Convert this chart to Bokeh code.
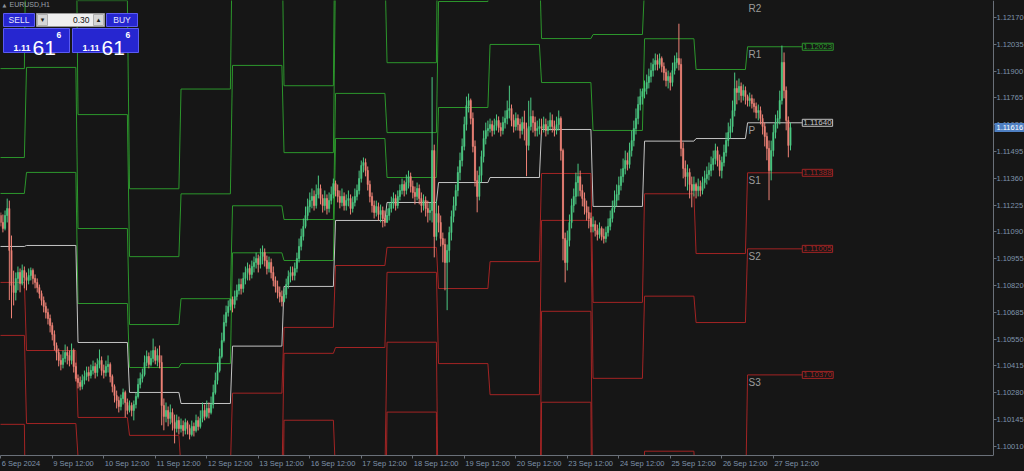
import numpy as np
import pandas as pd
from bokeh.plotting import figure
from bokeh.models import (ColumnDataSource, Range1d, FixedTicker, PrintfTickFormatter, LinearAxis,
                          Label, BoxAnnotation, GlobalInlineStyleSheet)
from bokeh.core.properties import value
from bokeh.embed import file_html
from bokeh.resources import INLINE

# ---------------- data (EURUSD, H1) ----------------
SYMBOL = "EURUSD,H1"
LOT = "0.30"
first_open = 1.11173

close = [
    # 6 Sep (12:00-23:00)
    1.11138, 1.11108, 1.11173, 1.11208, 1.10997, 1.10820, 1.10785, 1.10856, 1.10886, 1.10831, 1.10896, 1.10861,
    # 9 Sep
    1.10846, 1.10871, 1.10896, 1.10856, 1.10836, 1.10810, 1.10780, 1.10745, 1.10715, 1.10684, 1.10654, 1.10619,
    1.10574, 1.10518, 1.10483, 1.10443, 1.10423, 1.10453, 1.10483, 1.10468, 1.10443, 1.10493, 1.10412, 1.10352,
    # 10 Sep
    1.10332, 1.10312, 1.10342, 1.10362, 1.10382, 1.10367, 1.10392, 1.10412, 1.10382, 1.10423, 1.10443, 1.10392,
    1.10382, 1.10412, 1.10423, 1.10362, 1.10312, 1.10266, 1.10241, 1.10211, 1.10251, 1.10281, 1.10231, 1.10191,
    # 11 Sep
    1.10216, 1.10191, 1.10221, 1.10261, 1.10322, 1.10352, 1.10372, 1.10433, 1.10463, 1.10423, 1.10453, 1.10493,
    1.10443, 1.10468, 1.10433, 1.10216, 1.10161, 1.10191, 1.10151, 1.10181, 1.10130, 1.10100, 1.10140, 1.10100,
    # 12 Sep
    1.10115, 1.10090, 1.10130, 1.10100, 1.10070, 1.10110, 1.10090, 1.10140, 1.10110, 1.10151, 1.10191, 1.10161,
    1.10201, 1.10181, 1.10221, 1.10281, 1.10342, 1.10392, 1.10463, 1.10543, 1.10634, 1.10684, 1.10715, 1.10750,
    # 13 Sep
    1.10725, 1.10765, 1.10795, 1.10825, 1.10805, 1.10856, 1.10886, 1.10906, 1.10876, 1.10916, 1.10936, 1.10956,
    1.10926, 1.10967, 1.10987, 1.10946, 1.10906, 1.10936, 1.10886, 1.10846, 1.10815, 1.10785, 1.10765, 1.10740,
    # 16 Sep
    1.10775, 1.10825, 1.10866, 1.10886, 1.10871, 1.10906, 1.10956, 1.11017, 1.11067, 1.11118, 1.11173, 1.11218,
    1.11249, 1.11269, 1.11223, 1.11279, 1.11309, 1.11259, 1.11223, 1.11259, 1.11208, 1.11249, 1.11279, 1.11334,
    # 17 Sep
    1.11299, 1.11269, 1.11239, 1.11269, 1.11223, 1.11249, 1.11259, 1.11208, 1.11239, 1.11269, 1.11299, 1.11359,
    1.11425, 1.11440, 1.11400, 1.11329, 1.11269, 1.11223, 1.11188, 1.11218, 1.11178, 1.11198, 1.11158, 1.11138,
    # 18 Sep
    1.11173, 1.11208, 1.11233, 1.11259, 1.11223, 1.11269, 1.11299, 1.11329, 1.11299, 1.11339, 1.11369, 1.11319,
    1.11289, 1.11269, 1.11309, 1.11259, 1.11223, 1.11249, 1.11208, 1.11188, 1.11198, 1.11500, 1.11067, 1.11183,
    # 19 Sep
    1.11138, 1.11057, 1.11027, 1.10936, 1.10997, 1.11087, 1.11168, 1.11223, 1.11299, 1.11390, 1.11450, 1.11521,
    1.11631, 1.11727, 1.11752, 1.11662, 1.11521, 1.11349, 1.11269, 1.11375, 1.11470, 1.11561, 1.11601, 1.11611,
    # 20 Sep
    1.11631, 1.11601, 1.11626, 1.11652, 1.11616, 1.11601, 1.11641, 1.11662, 1.11702, 1.11712, 1.11652, 1.11621,
    1.11662, 1.11631, 1.11601, 1.11641, 1.11611, 1.11526, 1.11621, 1.11672, 1.11641, 1.11601, 1.11611, 1.11621,
    # 23 Sep
    1.11611, 1.11631, 1.11601, 1.11621, 1.11652, 1.11621, 1.11601, 1.11631, 1.11662, 1.11500, 1.11057, 1.10936,
    1.11047, 1.11138, 1.11223, 1.11269, 1.11339, 1.11369, 1.11299, 1.11259, 1.11218, 1.11188, 1.11158, 1.11118,
    # 24 Sep
    1.11128, 1.11097, 1.11077, 1.11108, 1.11067, 1.11057, 1.11087, 1.11118, 1.11158, 1.11208, 1.11249, 1.11279,
    1.11324, 1.11369, 1.11410, 1.11450, 1.11430, 1.11500, 1.11551, 1.11611, 1.11662, 1.11732, 1.11772, 1.11798,
    # 25 Sep
    1.11813, 1.11843, 1.11873, 1.11903, 1.11934, 1.11954, 1.11934, 1.11964, 1.11924, 1.11893, 1.11853, 1.11873,
    1.11843, 1.11903, 1.11944, 1.11964, 1.11934, 1.11511, 1.11410, 1.11369, 1.11390, 1.11329, 1.11299, 1.11329,
    # 26 Sep
    1.11299, 1.11319, 1.11299, 1.11339, 1.11359, 1.11380, 1.11400, 1.11430, 1.11460, 1.11500, 1.11450, 1.11400,
    1.11440, 1.11490, 1.11551, 1.11591, 1.11621, 1.11702, 1.11813, 1.11793, 1.11823, 1.11777, 1.11803, 1.11772,
    # 27 Sep (00:00-20:00)
    1.11752, 1.11762, 1.11737, 1.11722, 1.11692, 1.11702, 1.11662, 1.11621, 1.11571, 1.11511, 1.11400, 1.11500,
    1.11591, 1.11641, 1.11662, 1.11752, 1.11944, 1.11803, 1.11652, 1.11526, 1.11616,
]

# upper / lower wick beyond the body, in points (0.00001)
wick_up = [
    15, 40, 25, 50, 40, 75, 75, 30, 30, 20, 30, 20,
    25, 35, 15, 10, 20, 20, 15, 15, 20, 20, 20, 20, 15, 20, 15, 20, 30, 40, 40, 30, 25, 35, 10, 20,
    20, 30, 30, 30, 30, 30, 30, 30, 20, 30, 55, 20, 30, 30, 45, 10, 10, 10, 25, 20, 20, 20, 10, 20,
    25, 15, 20, 20, 30, 30, 30, 35, 30, 20, 40, 60, 20, 35, 50, 35, 35, 40, 20, 40, 20, 40, 30, 20,
    35, 25, 20, 10, 20, 30, 20, 30, 20, 40, 40, 30, 40, 30, 40, 40, 40, 40, 40, 40, 40, 35, 30, 5,
    15, 30, 30, 30, 30, 30, 30, 30, 20, 30, 30, 30, 20, 40, 35, 20, 25, 30, 20, 30, 20, 30, 30, 30,
    30, 30, 30, 30, 30, 30, 30, 40, 40, 40, 45, 40, 40, 40, 30, 50, 65, 20, 20, 40, 20, 40, 40, 25,
    15, 30, 30, 40, 20, 30, 40, 20, 30, 40, 30, 40, 25, 25, 20, 20, 20, 20, 25, 30, 20, 30, 20, 40,
    35, 30, 35, 30, 20, 30, 30, 30, 20, 40, 30, 20, 30, 30, 30, 20, 30, 30, 20, 40, 40, 370, 30, 65,
    40, 35, 30, 30, 30, 30, 30, 45, 30, 30, 40, 40, 40, 45, 35, 10, 30, 30, 50, 45, 30, 40, 40, 40,
    30, 20, 35, 30, 20, 25, 30, 40, 50, 115, 20, 30, 30, 20, 30, 30, 60, 30, 130, 95, 30, 30, 40, 40,
    40, 40, 30, 30, 40, 30, 30, 40, 40, 10, 10, 30, 50, 40, 35, 40, 50, 65, 30, 30, 30, 30, 30, 30,
    40, 20, 30, 30, 10, 40, 30, 40, 40, 40, 50, 50, 45, 40, 50, 50, 40, 40, 50, 40, 50, 40, 40, 15,
    40, 40, 40, 40, 30, 35, 30, 25, 10, 20, 20, 30, 20, 40, 35, 30, 175, 30, 30, 40, 40, 20, 40, 40,
    10, 40, 30, 30, 40, 40, 40, 40, 40, 35, 20, 30, 30, 40, 40, 50, 40, 50, 80, 40, 40, 20, 30, 20,
    10, 30, 20, 25, 20, 30, 20, 20, 20, 20, 40, 50, 40, 40, 40, 50, 85, 50, 20, 20, 25,
]
wick_dn = [
    20, 20, 10, 35, 250, 165, 65, 40, 60, 45, 10, 55,
    50, 20, 25, 30, 30, 25, 25, 25, 30, 30, 30, 35, 30, 25, 40, 30, 30, 20, 20, 45, 30, 20, 30, 15,
    30, 20, 15, 20, 20, 30, 15, 20, 30, 20, 20, 25, 30, 20, 30, 30, 30, 35, 40, 30, 20, 30, 75, 20,
    10, 30, 50, 20, 10, 20, 20, 10, 20, 20, 10, 20, 20, 30, 30, 100, 70, 30, 40, 30, 40, 75, 20, 30,
    20, 30, 20, 30, 25, 10, 30, 10, 20, 10, 20, 20, 10, 30, 10, 20, 10, 20, 10, 10, 10, 20, 20, 20,
    40, 20, 20, 20, 30, 20, 30, 40, 30, 20, 30, 30, 40, 20, 40, 30, 30, 20, 30, 30, 30, 30, 30, 25,
    5, 20, 20, 30, 25, 25, 20, 20, 20, 20, 10, 25, 30, 40, 25, 15, 20, 30, 35, 25, 30, 20, 20, 20,
    30, 30, 30, 20, 25, 25, 30, 30, 20, 20, 20, 20, 20, 35, 30, 30, 30, 35, 30, 20, 30, 40, 45, 20,
    0, 25, 20, 25, 25, 15, 20, 20, 30, 20, 30, 30, 30, 40, 20, 30, 35, 25, 40, 50, 40, 60, 105, 20,
    50, 40, 90, 140, 240, 60, 40, 30, 25, 30, 40, 30, 20, 30, 35, 30, 30, 30, 80, 20, 35, 30, 30, 30,
    20, 30, 20, 25, 25, 30, 20, 30, 30, 40, 30, 30, 20, 30, 40, 20, 60, 155, 25, 20, 50, 30, 30, 30,
    30, 20, 30, 20, 20, 30, 30, 20, 30, 50, 110, 100, 40, 30, 30, 35, 40, 70, 30, 40, 40, 40, 50, 30,
    30, 30, 30, 20, 20, 25, 20, 20, 20, 20, 20, 30, 30, 25, 30, 30, 30, 20, 30, 30, 30, 30, 30, 40,
    35, 30, 30, 30, 30, 30, 30, 20, 30, 40, 30, 40, 40, 20, 20, 30, 30, 40, 50, 50, 70, 70, 85, 30,
    40, 30, 30, 20, 30, 30, 30, 30, 30, 30, 30, 30, 40, 20, 20, 30, 30, 30, 30, 60, 40, 35, 25, 40,
    30, 30, 25, 30, 30, 40, 30, 40, 50, 60, 150, 50, 30, 30, 30, 30, 20, 40, 50, 60, 25,
]

# previous-day high / low / close used for each displayed day's pivot levels
prev_high = [1.11198, 1.11551, 1.10911, 1.10498, 1.10553, 1.10752, 1.11022, 1.11375,
             1.11465, 1.11873, 1.11788, 1.11828, 1.11702, 1.11813, 1.12140, 1.11892]
prev_low = [1.10750, 1.10654, 1.10337, 1.10156, 1.10025, 1.10045, 1.10685, 1.10735,
            1.11113, 1.10961, 1.10694, 1.11370, 1.10836, 1.11032, 1.11213, 1.11257]
prev_close = [1.11103, 1.10861, 1.10352, 1.10191, 1.10100, 1.10748, 1.10740, 1.11334,
              1.11138, 1.11183, 1.11611, 1.11621, 1.11118, 1.11798, 1.11329, 1.11771]

price_ticks = [1.10010, 1.10145, 1.10280, 1.10415, 1.10550, 1.10685, 1.10820, 1.10955, 1.11090,
               1.11225, 1.11360, 1.11495, 1.11630, 1.11765, 1.11900, 1.12035, 1.12170]

# ---------------- style ----------------
BG = "#161616"
BULL = "#4cc983"
BEAR = "#ef8377"
R_COL = "#2c962c"
P_COL = "#c4c4c4"
S_COL = "#a32424"
AXIS_TXT = "#7f93ab"
AXIS_LINE = "#6a7079"
FONT = "Liberation Sans"
AX_FS = 7.5
BLUE = "#2626d0"
BLUE_EDGE = "#5b5bf2"

# ---------------- derived ----------------
t = pd.date_range("2024-09-06 12:00", "2024-09-27 20:00", freq="h")
t = t[t.dayofweek < 5]
assert len(t) == len(close) == len(wick_up) == len(wick_dn), (len(t), len(close), len(wick_up), len(wick_dn))
x = np.arange(len(t))

c = np.array(close)
o = np.r_[first_open, c[:-1]]
top = np.maximum(o, c)
bot = np.minimum(o, c)
hi = top + np.array(wick_up) * 1e-5
lo = bot - np.array(wick_dn) * 1e-5
col = np.where(c >= o, BULL, BEAR)
csrc = ColumnDataSource(dict(x=x, o=o, c=c, top=top, bot=bot, hi=hi, lo=lo, col=col))

day = t.normalize()
days = day.unique()
starts = [int(np.flatnonzero(day == d)[0]) for d in days]
ends = [int(np.flatnonzero(day == d)[-1]) for d in days]
H, L, C = np.array(prev_high), np.array(prev_low), np.array(prev_close)
P = (H + L + C) / 3
RG = H - L
levels = {
    "R4": (P + 3 * RG, R_COL), "R3": (P + 2 * RG, R_COL), "R2": (P + RG, R_COL),
    "R1": (2 * P - L, R_COL), "P": (P, P_COL), "S1": (2 * P - H, S_COL),
    "S2": (P - RG, S_COL), "S3": (P - 2 * RG, S_COL), "S4": (P - 3 * RG, S_COL),
}

# ---------------- figure ----------------
W, HGT = 1024, 471
FH = 455                  # plot height in px (time scale below)
CHART_W = 993             # chart area width in px (price scale drawn at its right edge)
YMIN, YMAX = 1.09964, 1.12256
X0, XR = -0.12, 462.6     # bar-index range of the chart area
px_per_bar = CHART_W / (XR - X0)
X1 = X0 + W / px_per_bar  # frame spans the full width; the price scale sits at XR

p = figure(width=W, height=HGT, output_backend="svg", toolbar_location=None, tools="",
           x_range=Range1d(X0, X1), y_range=Range1d(YMIN, YMAX),
           y_axis_location="right", min_border_left=0, min_border_top=0,
           min_border_right=0, min_border_bottom=HGT - FH,
           background_fill_color=BG, border_fill_color=BG, outline_line_color=None)
p.grid.visible = False
p.stylesheets = [GlobalInlineStyleSheet(css="html,body{margin:0;padding:0;background:#161616;overflow:hidden;}")]

# pivot lines (daily steps)
n = len(days)
for name, (lv, colr) in levels.items():
    xs, ys = [], []
    for k in range(n):
        xa = starts[k] if k > 0 else -1
        xb = ends[k] if k < n - 1 else ends[k] + 5.5
        xs += [xa, xb]
        ys += [lv[k], lv[k]]
    p.line(xs, ys, line_color=colr, line_width=1)

# candles
p.segment(x0="x", y0="lo", x1="x", y1="hi", line_color="col", line_width=1, source=csrc)
p.vbar(x="x", width=0.55, top="top", bottom="bot", fill_color="col", line_color="col",
       line_width=0.6, source=csrc)

# pivot names + value boxes for the current day (only the levels inside the price window)
nm_x, nm_y, nm_t = [], [], []
vb_x, vb_y, vb_t, vb_c = [], [], [], []
for name, (lv, colr) in levels.items():
    v = lv[-1]
    if YMIN + 0.0003 < v < YMAX + 0.0003:
        nm_x.append(starts[-1]); nm_y.append(min(v, YMAX)); nm_t.append(name)
    if YMIN + 0.0003 < v < YMAX - 0.0002:
        vb_x.append(ends[-1] + 5.5); vb_y.append(v); vb_t.append("%.5f" % v); vb_c.append(colr)
p.text(x="x", y="y", text="t", source=ColumnDataSource(dict(x=nm_x, y=nm_y, t=nm_t)),
       text_color="#9c9c9c", text_font=value(FONT), text_font_size="10px",
       text_baseline="top", x_offset=1, y_offset=2)
p.text(x="x", y="y", text="t", source=ColumnDataSource(dict(x=vb_x, y=vb_y, t=vb_t, col=vb_c)),
       text_color="col", text_font=value(FONT), text_font_size="8px", text_baseline="middle",
       border_line_color="col", background_fill_color=BG, padding=1)

# ---- axes ----
tick_idx = [int(i) for i in x if t[i].hour == 12]
tick_txt = [t[i].strftime("%-d %b %Y") if i == 0 else t[i].strftime("%-d %b %H:%M") for i in tick_idx]

# time axis: tick marks at 12:00 (no labels) ...
xa = p.xaxis[0]
xa.ticker = FixedTicker(ticks=tick_idx)
xa.bounds = (X0, XR)
xa.major_label_overrides = {i: "" for i in tick_idx}
xa.major_label_text_font_size = "0px"
xa.major_label_standoff = 0
# ... and a label-only axis: MT4 writes each label starting at its tick, so each label centre is
# moved right by half the label width (Arial advance widths, em)
ADV = {" ": 0.278, ":": 0.278, "S": 0.667}
lab_pos = [i + sum(ADV.get(ch, 0.556) for ch in s) * AX_FS / 2 / px_per_bar + 0.5
           for i, s in zip(tick_idx, tick_txt)]
lab_axis = LinearAxis(ticker=FixedTicker(ticks=lab_pos),
                      major_label_overrides={lp: s for lp, s in zip(lab_pos, tick_txt)},
                      axis_line_color=None, major_tick_line_color=None, minor_tick_line_color=None,
                      major_tick_out=0, major_tick_in=0, major_label_standoff=0,
                      major_label_text_color=AXIS_TXT, major_label_text_font=FONT,
                      major_label_text_font_size="%spx" % AX_FS)
p.add_layout(lab_axis, "below")

# price scale: drawn at the right edge of the chart area
ya = p.yaxis[0]
ya.fixed_location = XR
ya.ticker = FixedTicker(ticks=price_ticks)
ya.formatter = PrintfTickFormatter(format="%.5f")
ya.major_label_text_color = AXIS_TXT
ya.major_label_text_font = FONT
ya.major_label_text_font_size = "%spx" % AX_FS
ya.major_label_standoff = 0
for ax in (xa, ya):
    ax.axis_line_color = AXIS_LINE
    ax.major_tick_line_color = AXIS_LINE
    ax.minor_tick_line_color = None
    ax.major_tick_out = 3
    ax.major_tick_in = 0

# current price tag on the price scale
last_price = close[-1]
p.add_layout(Label(x=XR, y=last_price, x_offset=1, text="%.5f" % last_price,
                   text_color="white", text_font=FONT, text_font_size="%spx" % AX_FS,
                   text_baseline="middle", background_fill_color="#4e7fc2", padding=2))


# one-click trading panel (screen units relative to the chart's top-left corner)
def sbox(x0, y0, x1, y1, fill, line):
    p.add_layout(BoxAnnotation(left=x0, right=x1, top=FH - y0, bottom=FH - y1,
                               left_units="screen", right_units="screen",
                               top_units="screen", bottom_units="screen",
                               fill_color=fill, fill_alpha=1, line_color=line, line_alpha=1))


def stext(xp, yp, text, size, color, align="left", baseline="middle", font=FONT, style="normal"):
    p.add_layout(Label(x=xp, y=FH - yp, x_units="screen", y_units="screen", text=text,
                       text_color=color, text_font=font, text_font_size=size,
                       text_align=align, text_baseline=baseline, text_font_style=style))


stext(2, 4, "\u25b2", "5px", "#8d939b", font="DejaVu Sans")
stext(9, 4, SYMBOL, "7px", "#9aa1aa")
sbox(3, 13, 34, 26, BLUE, BLUE_EDGE)
stext(18.5, 19.5, "SELL", "8.5px", "#e6e6ff", align="center")
sbox(36, 13, 104, 26, "#efefef", "#9a9a9a")
sbox(37, 14, 47, 25, "#d6d6d6", "#b0b0b0")
sbox(93, 14, 103, 25, "#d6d6d6", "#b0b0b0")
stext(42, 19.5, "\u25be", "7px", "#202020", align="center", font="DejaVu Sans")
stext(98, 19.5, "\u25b4", "7px", "#202020", align="center", font="DejaVu Sans")
stext(89, 19.5, LOT, "8.5px", "#111111", align="right")
sbox(106, 13, 137, 26, BLUE, BLUE_EDGE)
stext(121.5, 19.5, "BUY", "8.5px", "#e6e6ff", align="center")
ps = "%.5f" % last_price
for bx in (3, 72):
    sbox(bx, 28, bx + 66, 52, BLUE, BLUE_EDGE)
    stext(bx + 10, 47, ps[:4], "9px", "white", baseline="alphabetic", style="bold")
    stext(bx + 29, 47.5, ps[4:6], "21px", "white", baseline="alphabetic")
    stext(bx + 53, 31, ps[6:], "8.5px", "white", baseline="top", style="bold")

open("out.html", "w").write(file_html(p, INLINE))
